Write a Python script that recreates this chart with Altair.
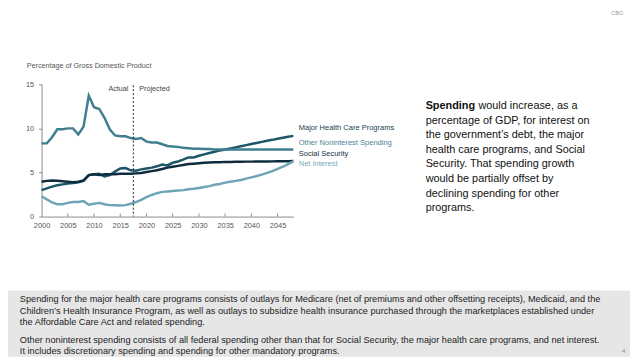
import altair as alt
import pandas as pd

FONT = "Liberation Sans"

years = list(range(2000, 2049))
series_names = ["Major Health Care Programs", "Other Noninterest Spending",
                "Social Security", "Net Interest"]
line_colors = ["#1d5568", "#3f7f8f", "#0e2c3e", "#6ea5b6"]
label_colors = ["#1a3e4e", "#4a8595", "#16303f", "#78aaba"]

major_health = [3.0, 3.2, 3.4, 3.55, 3.65, 3.75, 3.8, 3.9, 4.05, 4.7,
                4.8, 4.85, 4.55, 4.7, 5.1, 5.45, 5.5, 5.25, 5.2, 5.35,
                5.45, 5.55, 5.7, 5.9, 5.8, 6.1, 6.25, 6.45, 6.7, 6.7,
                6.9, 7.05, 7.2, 7.35, 7.5, 7.6, 7.72, 7.85, 7.97, 8.1,
                8.22, 8.35, 8.47, 8.6, 8.7, 8.82, 8.93, 9.05, 9.15]
other_nonint = [8.3, 8.3, 9.0, 9.9, 9.9, 10.0, 10.0, 9.3, 10.2, 13.7,
                12.4, 12.2, 11.2, 9.9, 9.2, 9.1, 9.1, 8.9, 8.8, 8.9,
                8.5, 8.4, 8.4, 8.2, 8.0, 7.95, 7.9, 7.8, 7.75, 7.7,
                7.7, 7.65, 7.65, 7.6, 7.6, 7.6, 7.6, 7.6, 7.6, 7.6,
                7.6, 7.6, 7.6, 7.6, 7.6, 7.6, 7.6, 7.6, 7.6]
social_security = [3.95, 4.05, 4.1, 4.05, 4.0, 3.95, 3.9, 3.95, 4.1, 4.7,
                   4.8, 4.7, 4.8, 4.8, 4.8, 4.85, 4.85, 4.85, 4.9, 4.95,
                   5.05, 5.15, 5.25, 5.4, 5.55, 5.65, 5.75, 5.85, 5.95, 6.0,
                   6.05, 6.1, 6.12, 6.15, 6.17, 6.2, 6.2, 6.22, 6.22, 6.23,
                   6.23, 6.24, 6.25, 6.25, 6.26, 6.27, 6.28, 6.28, 6.3]
net_interest = [2.3, 1.95, 1.6, 1.4, 1.4, 1.55, 1.65, 1.65, 1.75, 1.35,
                1.45, 1.55, 1.4, 1.3, 1.28, 1.25, 1.3, 1.45, 1.65, 1.9,
                2.2, 2.45, 2.65, 2.8, 2.85, 2.9, 2.95, 3.0, 3.1, 3.15,
                3.25, 3.35, 3.45, 3.6, 3.7, 3.85, 3.95, 4.05, 4.15, 4.3,
                4.45, 4.6, 4.75, 4.95, 5.15, 5.4, 5.65, 5.95, 6.25]

x_ticks = list(range(2000, 2050, 5))
y_ticks = [0, 5, 10, 15]
divider_year = 2017.5

y_title = "Percentage of Gross Domestic Product"
actual_label = "Actual"
projected_label = "Projected"

para_bold = "Spending"
para_lines = ["would increase, as a",
              "percentage of GDP, for interest on",
              "the government\u2019s debt, the major",
              "health care programs, and Social",
              "Security. That spending growth",
              "would be partially offset by",
              "declining spending for other",
              "programs."]

note1 = ["Spending for the major health care programs consists of outlays for Medicare (net of premiums and other offsetting receipts), Medicaid, and the",
         "Children\u2019s Health Insurance Program, as well as outlays to subsidize health insurance purchased through the marketplaces established under",
         "the Affordable Care Act and related spending."]
note2 = ["Other noninterest spending consists of all federal spending other than that for Social Security, the major health care programs, and net interest.",
         "It includes discretionary spending and spending for other mandatory programs."]

rows = []
for name, vals in zip(series_names, [major_health, other_nonint, social_security, net_interest]):
    for yr, v in zip(years, vals):
        rows.append({"year": yr, "value": v, "series": name})
df = pd.DataFrame(rows)

W, H = 255, 134
PAD_L, PAD_T = 34, 75
TOTAL_W, TOTAL_H = 630, 351
AXIS_COLOR = "#8a8a8a"

xs = alt.Scale(domain=[2000, 2048], nice=False, zero=False)
ys = alt.Scale(domain=[0, 15], nice=False)
x_axis = alt.Axis(values=x_ticks, format="d", tickSize=0, labelFontSize=7.5,
                  labelColor="#555555", domainColor=AXIS_COLOR, labelPadding=5,
                  grid=False, title=None, labelOverlap=False, labelFlush=False,
                  labelFont=FONT)
y_axis = alt.Axis(values=y_ticks, tickSize=3, tickColor=AXIS_COLOR, labelFontSize=7.5,
                  labelColor="#555555", domainColor=AXIS_COLOR, labelPadding=5,
                  grid=False, title=None, labelFlush=False, labelFont=FONT)

lines = alt.Chart(df).mark_line(strokeWidth=2.5).encode(
    x=alt.X("year:Q", scale=xs, axis=x_axis),
    y=alt.Y("value:Q", scale=ys, axis=y_axis),
    color=alt.Color("series:N", scale=alt.Scale(domain=series_names, range=line_colors), legend=None),
)

ticks = alt.Chart(pd.DataFrame({"year": x_ticks[1:]})).mark_rule(
    color=AXIS_COLOR, strokeWidth=1).encode(
    x=alt.X("year:Q", scale=xs, axis=x_axis), y=alt.value(H), y2=alt.value(H - 3))

divider = alt.Chart(pd.DataFrame({"year": [divider_year]})).mark_rule(
    color="#222222", strokeWidth=1, strokeDash=[2, 2]).encode(
    x=alt.X("year:Q", scale=xs, axis=x_axis), y=alt.value(1), y2=alt.value(H))


def txt(s, x, y, size, color, align="left", weight="normal"):
    return alt.Chart(pd.DataFrame({"t": [s]})).mark_text(
        align=align, baseline="middle", fontSize=size, font=FONT,
        color=color, fontWeight=weight).encode(
        x=alt.value(x), y=alt.value(y), text="t:N")


box = alt.Chart(pd.DataFrame({"a": [0]})).mark_rect(color="#e6e6e6").encode(
    x=alt.value(-PAD_L), x2=alt.value(TOTAL_W - PAD_L),
    y=alt.value(209), y2=alt.value(TOTAL_H - PAD_T))

layers = [box, lines, ticks, divider]
layers.append(txt(y_title, -15, -18, 7.3, "#555555"))
layers.append(txt(actual_label, 88, 5, 7.3, "#444444", align="right"))
layers.append(txt(projected_label, 99, 5, 7.3, "#444444"))

label_y = [44, 59.5, 70.5, 80.5]
for name, c, ly in zip(series_names, label_colors, label_y):
    layers.append(txt(name, 260.5, ly, 7.6, c))

PX, PY, PLH, PFS = 389, 22, 14.8, 11
layers.append(txt(para_bold, PX, PY, PFS, "#111111", weight="bold"))
layers.append(txt(para_lines[0], PX + 53.5, PY, PFS, "#111111"))
for i, line in enumerate(para_lines[1:], start=1):
    layers.append(txt(line, PX, PY + i * PLH, PFS, "#111111"))

NX, NFS, NLH = -22, 9.3, 11.5
for i, line in enumerate(note1):
    layers.append(txt(line, NX, 218 + i * NLH, NFS, "#222222"))
for i, line in enumerate(note2):
    layers.append(txt(line, NX, 259 + i * NLH, NFS, "#222222"))

layers.append(txt("4", 588, 270, 6, "#888888"))
layers.append(txt("CBO", 583, -72, 5.5, "#999999", align="center"))

chart = alt.layer(*layers).properties(
    width=W, height=H,
    autosize=alt.AutoSizeParams(type="none"),
    padding={"left": PAD_L, "top": PAD_T, "right": TOTAL_W - PAD_L - W,
             "bottom": TOTAL_H - PAD_T - H},
    background="white",
).configure_view(stroke=None)

chart.save("out.html", embed_options={"renderer": "svg", "actions": False})
